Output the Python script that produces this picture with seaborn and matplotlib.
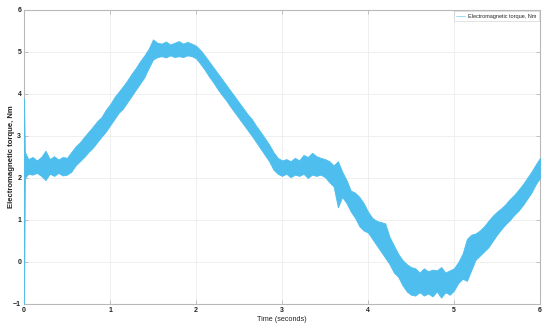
import matplotlib
matplotlib.use("Agg")
import matplotlib.pyplot as plt
import seaborn as sns
import pandas as pd

# time (s) and read-off envelope of the noisy torque signal (Nm)
time_s = [0.00, 0.01, 0.05, 0.10, 0.15, 0.20, 0.25, 0.30, 0.35, 0.40, 0.45,
          0.50, 0.55, 0.60, 0.65, 0.70, 0.75, 0.80, 0.85, 0.90, 0.95,
          1.00, 1.05, 1.10, 1.15, 1.20, 1.25, 1.30, 1.35, 1.40, 1.45,
          1.50, 1.55, 1.60, 1.65, 1.70, 1.75, 1.80, 1.85, 1.90, 1.95,
          2.00, 2.05, 2.10, 2.15, 2.20, 2.25, 2.30, 2.35, 2.40, 2.45,
          2.50, 2.55, 2.60, 2.65, 2.70, 2.75, 2.80, 2.85, 2.90, 2.95,
          3.00, 3.05, 3.10, 3.15, 3.20, 3.25, 3.30, 3.35, 3.40, 3.45,
          3.50, 3.55, 3.60, 3.65, 3.70, 3.75, 3.80, 3.85, 3.90, 3.95,
          4.00, 4.05, 4.10, 4.15, 4.20, 4.25, 4.30, 4.35, 4.40, 4.45,
          4.50, 4.55, 4.60, 4.65, 4.70, 4.75, 4.80, 4.85, 4.90, 4.95,
          5.00, 5.05, 5.10, 5.15, 5.20, 5.25, 5.30, 5.35, 5.40, 5.45,
          5.50, 5.55, 5.60, 5.65, 5.70, 5.75, 5.80, 5.85, 5.90, 5.95,
          6.00]

torque_low = [-1.00, 2.00, 2.10, 2.08, 2.12, 2.05, 1.95, 2.10, 2.05, 2.12, 2.06,
              2.08, 2.15, 2.30, 2.40, 2.50, 2.62, 2.72, 2.85, 2.98, 3.10,
              3.25, 3.40, 3.55, 3.65, 3.80, 3.95, 4.10, 4.25, 4.40, 4.62,
              4.82, 4.88, 4.90, 4.87, 4.92, 4.88, 4.90, 4.88, 4.92, 4.90,
              4.85, 4.72, 4.58, 4.42, 4.28, 4.12, 3.98, 3.85, 3.70, 3.56,
              3.42, 3.28, 3.14, 3.00, 2.85, 2.70, 2.55, 2.40, 2.20, 2.10,
              2.05, 2.10, 2.02, 2.08, 2.05, 2.10, 2.00, 2.08, 2.05, 2.08,
              2.02, 1.90, 1.80, 1.30, 1.55, 1.40, 1.20, 1.05, 0.85, 0.75,
              0.70, 0.55, 0.40, 0.25, 0.10, -0.05, -0.25, -0.35, -0.55, -0.70,
              -0.78, -0.80, -0.72, -0.80, -0.75, -0.82, -0.70, -0.85, -0.72, -0.78,
              -0.68, -0.50, -0.40, -0.45, -0.20, 0.05, 0.15, 0.25, 0.35, 0.50,
              0.65, 0.78, 0.90, 1.00, 1.12, 1.22, 1.35, 1.50, 1.65, 1.85,
              2.00]

torque_high = [3.90, 2.62, 2.45, 2.50, 2.42, 2.50, 2.65, 2.45, 2.52, 2.44, 2.50,
               2.48, 2.62, 2.75, 2.85, 2.98, 3.10, 3.22, 3.35, 3.45, 3.62,
               3.75, 3.92, 4.05, 4.18, 4.32, 4.48, 4.62, 4.78, 4.92, 5.08,
               5.30, 5.22, 5.20, 5.25, 5.18, 5.22, 5.26, 5.20, 5.24, 5.20,
               5.15, 5.05, 4.92, 4.78, 4.64, 4.50, 4.36, 4.22, 4.08, 3.94,
               3.80, 3.66, 3.52, 3.40, 3.24, 3.10, 2.95, 2.80, 2.62, 2.48,
               2.42, 2.45, 2.40, 2.48, 2.42, 2.55, 2.50, 2.60, 2.52, 2.48,
               2.45, 2.40, 2.30, 2.40, 2.15, 1.95, 1.70, 1.65, 1.55, 1.40,
               1.20, 1.05, 0.98, 0.95, 0.92, 0.60, 0.40, 0.20, 0.05, -0.05,
               -0.12, -0.15, -0.25, -0.15, -0.22, -0.18, -0.20, -0.12, -0.25, -0.20,
               -0.15, 0.00, 0.20, 0.55, 0.65, 0.68, 0.75, 0.85, 0.98, 1.10,
               1.20, 1.28, 1.38, 1.50, 1.60, 1.72, 1.85, 2.00, 2.15, 2.32,
               2.48]

x_ticks = [0, 1, 2, 3, 4, 5, 6]
y_ticks = [-1, 0, 1, 2, 3, 4, 5, 6]
series_label = "Electromagnetic torque, Nm"
line_color = "#4DBEEE"

df = pd.DataFrame({
    "t": time_s + time_s,
    "v": torque_low + torque_high,
})

sns.set_theme(style="white")
plt.rcParams["font.family"] = ["Liberation Sans", "DejaVu Sans"]

fig = plt.figure(figsize=(5.5, 3.29), dpi=100)
ax = fig.add_axes([24 / 550, 1 - 304 / 329, 516 / 550, 294 / 329])

sns.lineplot(data=df, x="t", y="v", errorbar=("pi", 100), estimator="mean",
             color=line_color, linewidth=0.4, label=series_label, ax=ax,
             err_kws={"alpha": 1.0, "linewidth": 0.6, "edgecolor": line_color})
for coll in ax.collections:
    coll.set_zorder(3)

ax.set_xlim(0, 6)
ax.set_ylim(-1, 6)
ax.set_xticks(x_ticks)
ax.set_yticks(y_ticks)
ax.grid(True, color="#ececec", linewidth=0.6)
ax.set_axisbelow(True)
for s in ax.spines.values():
    s.set_color("#b8b8b8")
    s.set_linewidth(0.8)
ax.tick_params(direction="in", length=3, width=0.6, color="#b8b8b8",
               labelsize=5, labelcolor="#222222", top=True, right=True,
               bottom=True, left=True, pad=2)
for lab in ax.get_yticklabels() + ax.get_xticklabels():
    lab.set_fontweight("bold")

ax.set_xlabel("Time (seconds)", fontsize=5.2, color="#222222", labelpad=1.5)
ax.set_ylabel(series_label, fontsize=5.6, fontweight="bold", color="#222222",
              labelpad=-1.5)

leg = ax.legend(loc="upper right", fontsize=4, frameon=True, fancybox=False,
                borderpad=0.4, handlelength=1.6, handletextpad=0.5,
                borderaxespad=0.25)
leg.get_frame().set_edgecolor("#cccccc")
leg.get_frame().set_linewidth(0.5)
leg.set_zorder(5)
for h in leg.get_lines():
    h.set_linewidth(0.4)

fig.savefig("out.png", dpi=100)
